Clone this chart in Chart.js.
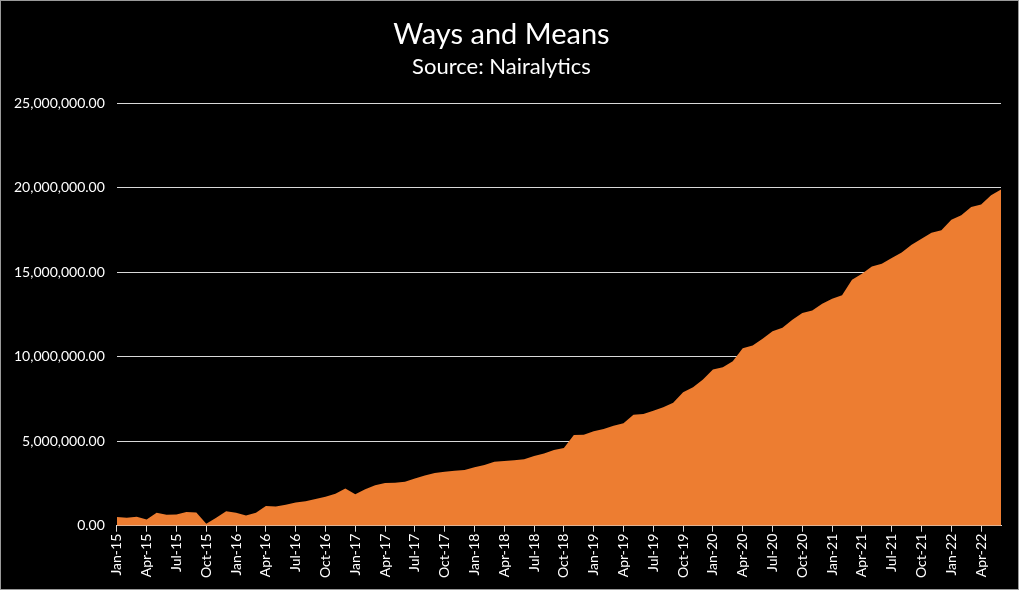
<!DOCTYPE html>
<html>
<head>
<meta charset="utf-8">
<script src="https://cdn.jsdelivr.net/npm/chart.js@4.4.1/dist/chart.umd.min.js"></script>
<style>
  html, body { margin: 0; padding: 0; background: #fff; }
  #box {
    position: absolute; left: 0; top: 0;
    width: 1017px; height: 588px;
    border: 1px solid #9a9a9a;
    background: #000;
  }
  #box canvas { display: block; }
</style>
</head>
<body>
<div id="box"><canvas id="chart" width="1017" height="588"></canvas></div>
<script>
// Ways and Means balance, monthly Jan-15 .. Jun-22 (values in naira)
const years = ["15", "16", "17", "18", "19", "20", "21", "22"]
const monthNames = ["Jan", "Feb", "Mar", "Apr", "May", "Jun", "Jul", "Aug", "Sep", "Oct", "Nov", "Dec"]

const values2015 = [0.51, 0.47, 0.53, 0.37, 0.77, 0.65, 0.67, 0.81, 0.79, 0.12, 0.47, 0.85]
const values2016 = [0.77, 0.61, 0.77, 1.17, 1.14, 1.24, 1.38, 1.45, 1.58, 1.72, 1.90, 2.20]
const values2017 = [1.87, 2.16, 2.40, 2.53, 2.54, 2.61, 2.79, 2.97, 3.12, 3.20, 3.26, 3.30]
const values2018 = [3.46, 3.60, 3.79, 3.83, 3.87, 3.93, 4.13, 4.27, 4.48, 4.60, 5.37, 5.39]
const values2019 = [5.59, 5.73, 5.92, 6.06, 6.56, 6.61, 6.81, 7.01, 7.27, 7.90, 8.20, 8.65]
const values2020 = [9.24, 9.38, 9.73, 10.50, 10.66, 11.06, 11.51, 11.71, 12.19, 12.58, 12.74, 13.13]
const values2021 = [13.43, 13.63, 14.56, 14.91, 15.34, 15.50, 15.84, 16.17, 16.63, 16.98, 17.34, 17.48]
const values2022 = [18.11, 18.37, 18.86, 19.00, 19.55, 19.89]

const millions = [].concat(values2015, values2016, values2017, values2018,
  values2019, values2020, values2021, values2022)
const series = millions.map((m) => Math.round(m * 1e6))

const labels = []
years.forEach((y) => monthNames.forEach((m) => labels.push(`${m}-${y}`)))
labels.length = series.length

const orange = "#ED7D31"
const line = "#d9d9d9"
const font = "Lato, 'Open Sans', sans-serif"

const money = (v) => {
  const [int, dec] = Number(v).toFixed(2).split(".")
  return int.replace(/\B(?=(\d{3})+(?!\d))/g, ",") + "." + dec
}

new Chart(document.getElementById("chart"), {
  type: "line",
  data: {
    labels,
    datasets: [{
      data: series,
      fill: "origin",
      backgroundColor: orange,
      borderWidth: 0,
      pointRadius: 0,
      tension: 0
    }]
  },
  options: {
    responsive: false,
    animation: false,
    layout: { padding: { left: 1, right: 17, bottom: 9 } },
    plugins: {
      legend: { display: false },
      tooltip: { enabled: false },
      title: {
        display: true,
        text: "Ways and Means",
        color: "#fff",
        font: { family: font, size: 29, weight: "normal" },
        padding: { top: 16, bottom: 2 }
      },
      subtitle: {
        display: true,
        text: "Source: Nairalytics",
        color: "#fff",
        font: { family: font, size: 22, weight: "normal" },
        padding: { top: 0, bottom: 23 }
      }
    },
    scales: {
      x: {
        offset: false,
        grid: { drawOnChartArea: false, drawTicks: true, tickLength: 6, color: line },
        border: { display: true, color: line, width: 1 },
        ticks: {
          color: "#fff",
          autoSkip: false,
          maxRotation: 90,
          minRotation: 90,
          padding: 2,
          font: { family: font, size: 14 },
          callback: (v, i) => (i % 3 === 0 ? labels[i] : null)
        }
      },
      y: {
        min: 0,
        max: 25000000,
        grid: { color: line, drawTicks: false },
        border: { display: false },
        ticks: {
          stepSize: 5000000,
          color: "#fff",
          padding: 12,
          font: { family: font, size: 14 },
          callback: (v) => money(v)
        }
      }
    }
  }
})
</script>
</body>
</html>
